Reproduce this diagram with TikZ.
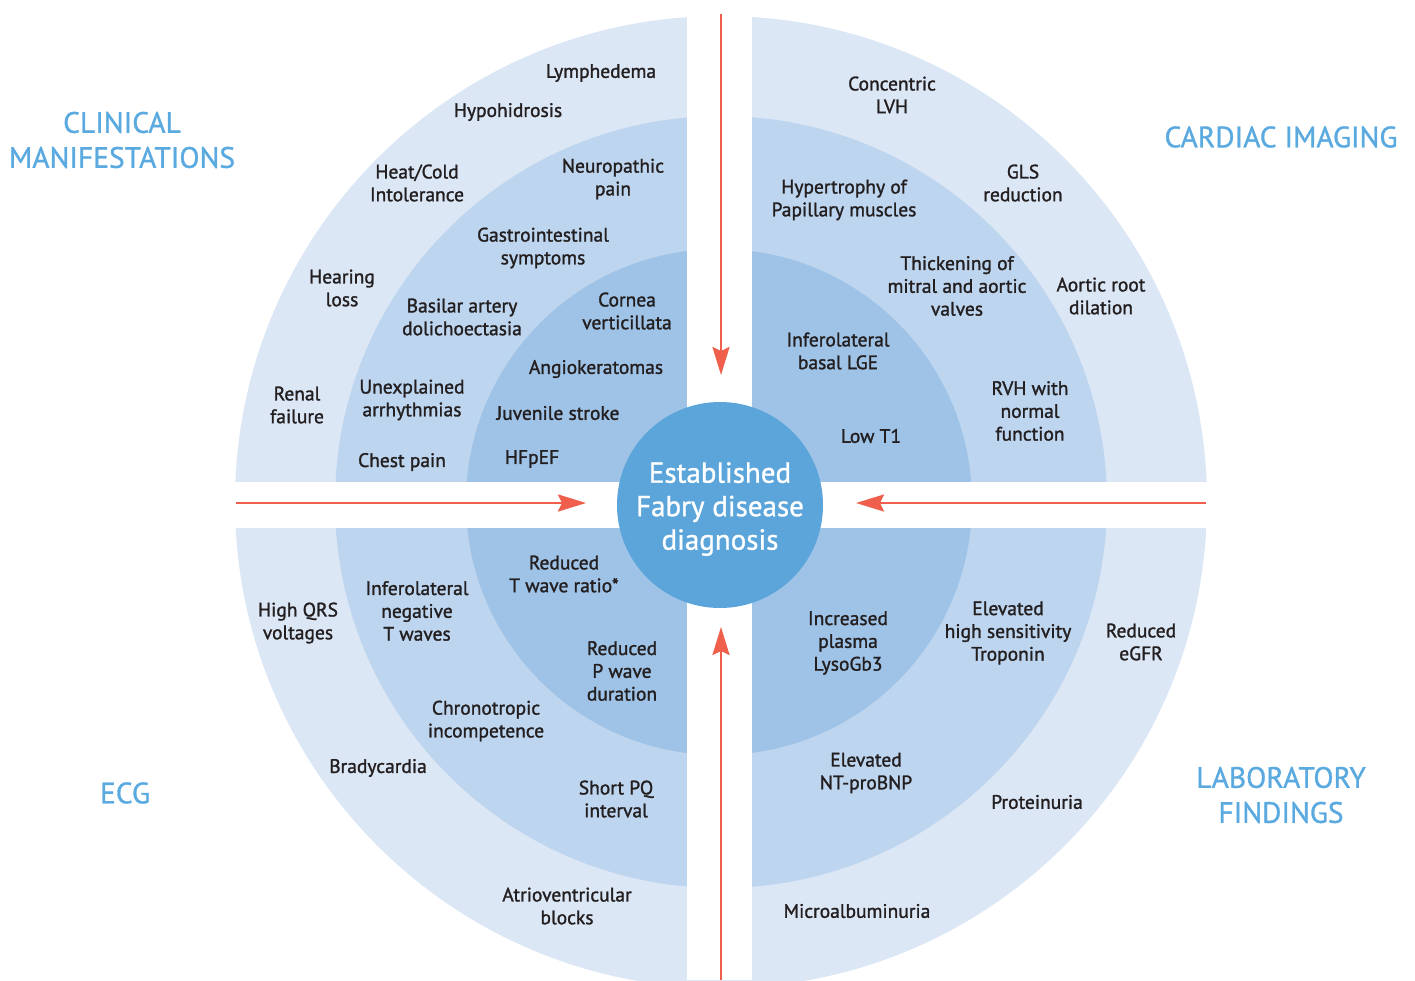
\documentclass[tikz,border=0pt]{standalone}
\usepackage{fontspec}
\setmainfont{PT Sans}
\newfontfamily\lblfont{PT Sans}[FakeBold=1.4]
\newfontfamily\ttlfont{PT Sans}[FakeBold=1.0]
\usetikzlibrary{arrows.meta}
\definecolor{ringA}{HTML}{DCE7F6}
\definecolor{ringB}{HTML}{BDD5EE}
\definecolor{ringC}{HTML}{9FC3E7}
\definecolor{core}{HTML}{5BA5DA}
\definecolor{ttl}{HTML}{5AAAE0}
\definecolor{arr}{HTML}{EF5F4B}
\definecolor{txt}{HTML}{231F20}
\begin{document}
\begin{tikzpicture}[x=1pt,y=-1pt,
  lbl/.style={align=center, font=\lblfont\fontsize{19.5}{22.8}\selectfont, text=txt, inner sep=0pt, yshift=-1pt},
  ttlbox/.style={align=center, font=\ttlfont\fontsize{29.5}{35}\selectfont, text=ttl, inner sep=0pt},
  corebox/.style={circle, fill=core, minimum size=206pt, inner sep=0pt},
  coretxt/.style={align=center, text=white, font=\ttlfont\fontsize{29}{33.5}\selectfont, inner sep=0pt},
  redarrow/.style={draw=arr, line width=2.6pt, -{Stealth[length=28pt,width=17pt,inset=4pt]}}]
\useasboundingbox (0,0) rectangle (1415,980);
\begin{scope}
\clip (0,0) rectangle (1415,980);
\fill[ringA] (721,502) circle (486);
\fill[ringB] (721,502) circle (386);
\fill[ringC] (719,502) circle (253);
\fill[white] (687,0) rectangle (752,980);
\fill[white] (0,482) rectangle (1415,528);
\end{scope}
\node[corebox] (core) at (720,505) {};
\node[coretxt] (coretext) at (720,509) {Established\\Fabry disease\\diagnosis};
% arrows
\coordinate (topS) at (721,14);
\coordinate (topE) at (721,375);
\coordinate (botS) at (721,980);
\coordinate (botE) at (721,627);
\coordinate (lefS) at (236,503);
\coordinate (lefE) at (586,503);
\coordinate (rigS) at (1206,503);
\coordinate (rigE) at (856,503);
\draw[redarrow] (topS) -- (topE);
\draw[redarrow] (botS) -- (botE);
\draw[redarrow] (lefS) -- (lefE);
\draw[redarrow] (rigS) -- (rigE);
% titles
\node[ttlbox] (tClin) at (122,140) {CLINICAL\\MANIFESTATIONS};
\node[ttlbox] (tCard) at (1281,137) {CARDIAC IMAGING};
\node[ttlbox] (tEcg) at (125,793) {ECG};
\node[ttlbox] (tLab) at (1281,795) {LABORATORY\\FINDINGS};
% clinical
\node[lbl] (c1) at (601,72) {Lymphedema};
\node[lbl] (c2) at (508,111) {Hypohidrosis};
\node[lbl] (c3) at (417,182) {Heat/Cold\\Intolerance};
\node[lbl] (c4) at (613,178) {Neuropathic\\pain};
\node[lbl] (c5) at (543,247) {Gastrointestinal\\symptoms};
\node[lbl] (c6) at (342,287) {Hearing\\loss};
\node[lbl] (c7) at (462,316) {Basilar artery\\dolichoectasia};
\node[lbl] (c8) at (627,310) {Cornea\\verticillata};
\node[lbl] (c9) at (596,368) {Angiokeratomas};
\node[lbl] (c10) at (297,404) {Renal\\failure};
\node[lbl] (c11) at (412,399) {Unexplained\\arrhythmias};
\node[lbl] (c12) at (558,412) {Juvenile stroke};
\node[lbl] (c13) at (402,461) {Chest pain};
\node[lbl] (c14) at (532,458) {HFpEF};
% cardiac imaging
\node[lbl] (i1) at (892,94) {Concentric\\LVH};
\node[lbl] (i2) at (1023,182) {GLS\\reduction};
\node[lbl] (i3) at (844,199) {Hypertrophy of\\Papillary muscles};
\node[lbl] (i4) at (957,285) {Thickening of\\mitral and aortic\\valves};
\node[lbl] (i5) at (1101,295) {Aortic root\\dilation};
\node[lbl] (i6) at (838,350) {Inferolateral\\basal LGE};
\node[lbl] (i7) at (1030,410) {RVH with\\normal\\function};
\node[lbl] (i8) at (871,435) {Low T1};
% ECG
\node[lbl] (e1) at (564,573) {Reduced\\T wave ratio*};
\node[lbl] (e2) at (417,610) {Inferolateral\\negative\\T waves};
\node[lbl] (e3) at (298,622) {High QRS\\voltages};
\node[lbl] (e4) at (622,670) {Reduced\\P wave\\duration};
\node[lbl] (e5) at (486,720) {Chronotropic\\incompetence};
\node[lbl] (e6) at (378,767) {Bradycardia};
\node[lbl] (e7) at (616,798) {Short PQ\\interval};
\node[lbl] (e8) at (567,905) {Atrioventricular\\blocks};
% laboratory
\node[lbl] (l1) at (848,642) {Increased\\plasma\\LysoGb3};
\node[lbl] (l2) at (1008,632) {Elevated\\high sensitivity\\Troponin};
\node[lbl] (l3) at (1141,641) {Reduced\\eGFR};
\node[lbl] (l4) at (866,772) {Elevated\\NT-proBNP};
\node[lbl] (l5) at (1037,801) {Proteinuria};
\node[lbl] (l6) at (857,910) {Microalbuminuria};
\end{tikzpicture}
\end{document}
